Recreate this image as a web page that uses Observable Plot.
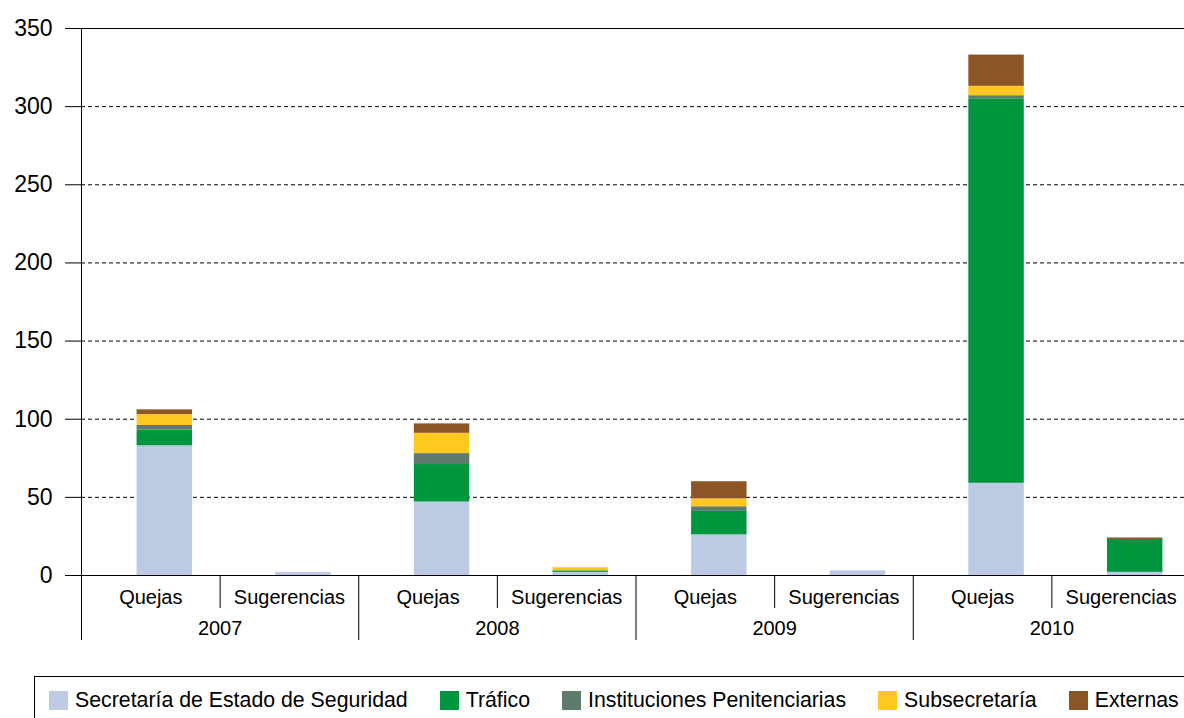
<!DOCTYPE html>
<html>
<head>
<meta charset="utf-8">
<script src="https://cdn.jsdelivr.net/npm/d3@7"></script>
<script src="https://cdn.jsdelivr.net/npm/@observablehq/plot@0.6"></script>
<style>
  html, body { margin: 0; padding: 0; background: #fff; overflow: hidden; }
  body { font-family: "Liberation Sans", Arial, Helvetica, sans-serif; width: 1184px; height: 718px; position: relative; }
  #legend { position: absolute; left: 34px; top: 676px; width: 1200px; height: 60px; border: 1px solid #000; box-sizing: border-box;
    display: flex; align-items: flex-start; padding-left: 14px; padding-top: 11px; font-size: 21.3px; color: #000; }
  .item { display: flex; align-items: center; margin-right: 32px; white-space: nowrap; }
  .sw { width: 19px; height: 19px; margin-right: 7px; flex: none; }
</style>
</head>
<body>
<div id="chart"></div>
<div id="legend"></div>
<script>
const years = ["2007", "2008", "2009", "2010"];
const types = ["Quejas", "Sugerencias"];
const orgs = ["Secretaría de Estado de Seguridad", "Tráfico", "Instituciones Penitenciarias", "Subsecretaría", "Externas"];
const colors = ["#BCCAE3", "#00963F", "#5E7B6C", "#FFC820", "#8B5526"];

// values per bar: 2007 Q, 2007 S, 2008 Q, 2008 S, 2009 Q, 2009 S, 2010 Q, 2010 S
const secretaria    = [83, 2, 47, 2, 26, 3, 59, 2];
const trafico       = [10, 0, 24, 1, 15, 0, 246, 21];
const instituciones = [3, 0, 7, 0, 3, 0, 2, 0];
const subsecretaria = [7, 0, 13, 2, 5, 0, 6, 0];
const externas      = [3, 0, 6, 0, 11, 0, 20, 1];

const yTicks = [0, 50, 100, 150, 200, 250, 300, 350];
const gridTicks = [50, 100, 150, 200, 250, 300];

const keys = years.flatMap(y => types.map(t => y + "|" + t));
const series = [secretaria, trafico, instituciones, subsecretaria, externas];
const data = [];
series.forEach((vals, i) => vals.forEach((v, j) => data.push({key: keys[j], org: orgs[i], value: v})));

const W = 1184, H = 650, mL = 81, mR = -6, mT = 28, mB = 75;
const step = (W - mR - mL) / keys.length;

const plot = Plot.plot({
  width: W, height: H,
  marginLeft: mL, marginRight: mR, marginTop: mT, marginBottom: mB,
  style: {fontFamily: "'Liberation Sans', Arial, Helvetica, sans-serif", fontSize: "20px", color: "#000", background: "#fff", overflow: "visible"},
  x: {domain: keys, paddingInner: 0.6, paddingOuter: 0.3, round: false, axis: null},
  y: {domain: [0, 350], axis: null},
  color: {domain: orgs, range: colors},
  marks: [
    Plot.ruleY(gridTicks, {stroke: "#000", strokeWidth: 1, strokeDasharray: "4,3"}),
    Plot.barY(data, {x: "key", y: "value", fill: "org", dx: 14}),
    Plot.ruleY([0, 350], {stroke: "#000", strokeWidth: 1}),
    Plot.axisY({ticks: yTicks, tickSize: 16, tickPadding: 13, fontSize: 23, stroke: "#000", label: null}),
    Plot.axisX({tickSize: 0, tickPadding: 14, fontSize: 20, label: null, tickFormat: k => k.split("|")[1]}),
    Plot.ruleX([keys[0]], {dx: -step / 2, insetBottom: -65, stroke: "#000"}),
    Plot.ruleX(keys.filter((k, i) => i > 0 && k.endsWith("Quejas")), {dx: -step / 2, insetTop: H - mT - mB, insetBottom: -65, stroke: "#000"}),
    Plot.ruleX(keys.filter(k => k.endsWith("Sugerencias")), {dx: -step / 2, insetTop: H - mT - mB, insetBottom: -33, stroke: "#000"}),
    Plot.text(years, {x: y => y + "|Quejas", text: d => d, dx: step / 2, frameAnchor: "bottom", dy: 59, fontSize: 20, fill: "#000"})
  ]
});
document.getElementById("chart").appendChild(plot);

const legend = d3.select("#legend");
orgs.forEach((o, i) => {
  const it = legend.append("div").attr("class", "item");
  it.append("div").attr("class", "sw").style("background", colors[i]);
  it.append("span").text(o);
});
</script>
</body>
</html>
